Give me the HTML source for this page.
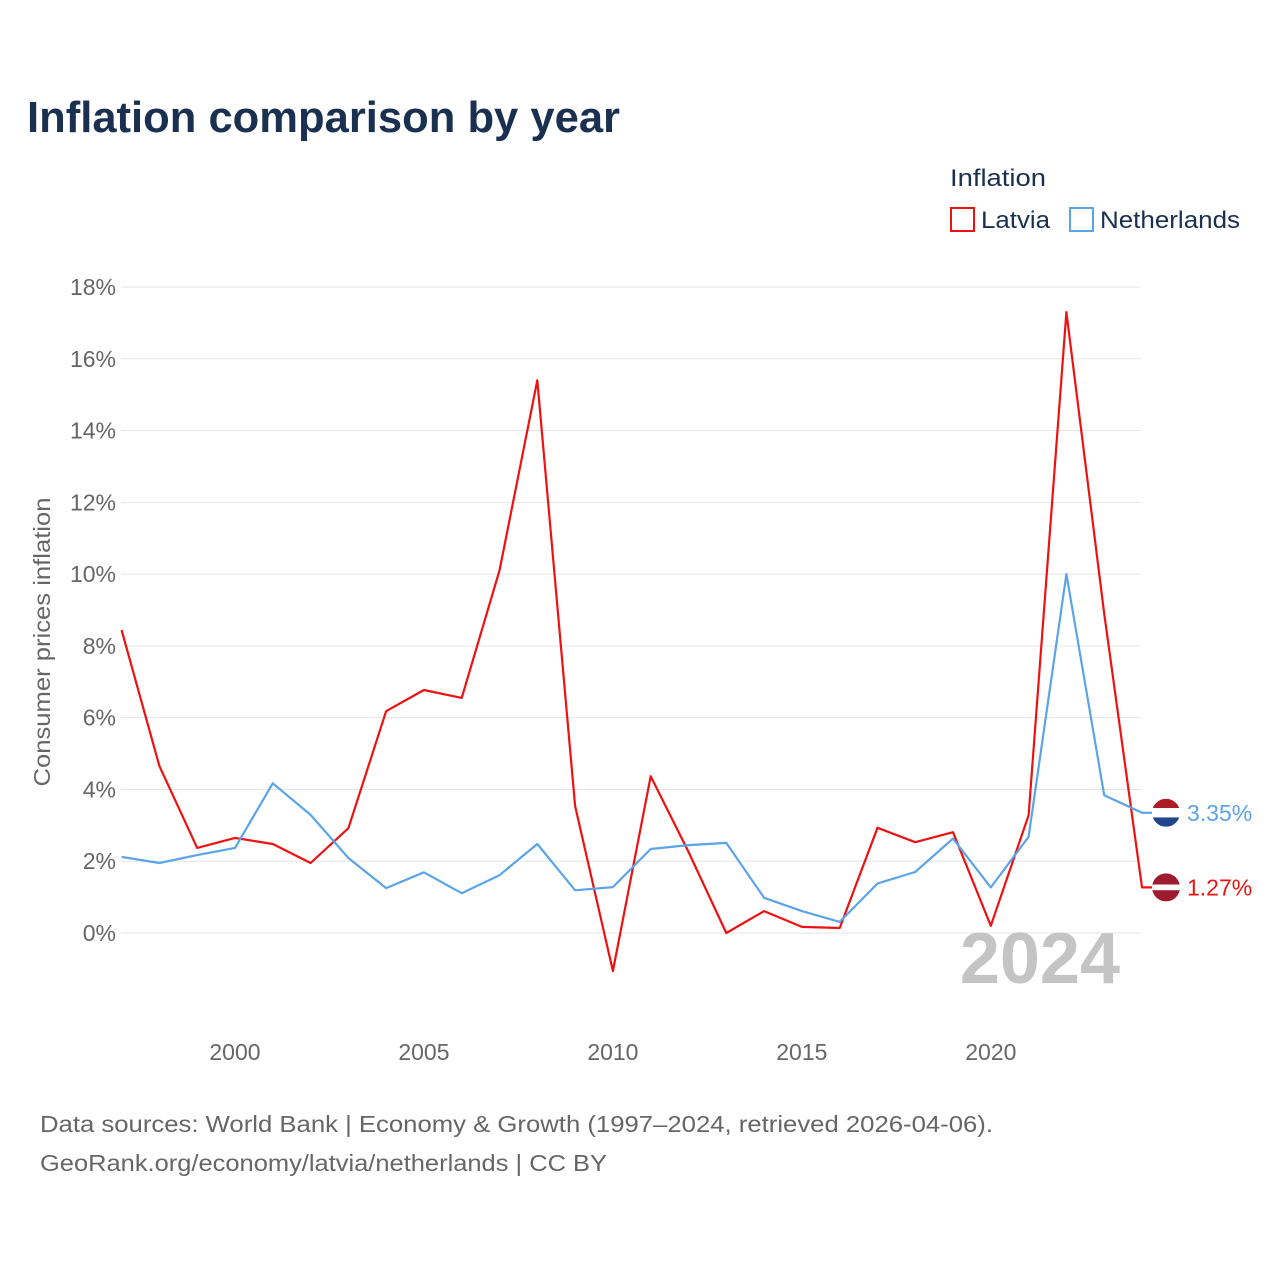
<!DOCTYPE html>
<html><head><meta charset="utf-8">
<style>
body{margin:0;background:#fff;font-family:"Liberation Sans",sans-serif;}
#wrap{position:relative;width:1280px;height:1280px;overflow:hidden;}
</style></head>
<body>
<div id="wrap">
<svg id="chart" width="1280" height="1280" xmlns="http://www.w3.org/2000/svg">
<text x="27" y="132" font-size="44" font-weight="bold" fill="#1a3050" textLength="593" lengthAdjust="spacingAndGlyphs">Inflation comparison by year</text>
<text x="950" y="186" font-size="24" fill="#1a3050" textLength="96" lengthAdjust="spacingAndGlyphs">Inflation</text>
<g>
<rect x="951" y="208" width="23" height="23" fill="none" stroke="#ee1111" stroke-width="2"/>
<text x="981" y="228" font-size="24" fill="#1a3050" textLength="69" lengthAdjust="spacingAndGlyphs">Latvia</text></g>
<g>
<rect x="1070" y="208" width="23" height="23" fill="none" stroke="#5ba4e8" stroke-width="2"/>
<text x="1100" y="228" font-size="24" fill="#1a3050" textLength="140" lengthAdjust="spacingAndGlyphs">Netherlands</text></g>
<text transform="translate(50,642) rotate(-90)" text-anchor="middle" font-size="23" fill="#666" textLength="289" lengthAdjust="spacingAndGlyphs">Consumer prices inflation</text>
<g id="grid"></g><g id="yticks"></g><g id="xticks"></g>
<text x="1120" y="983" text-anchor="end" font-size="72" font-weight="bold" fill="#c4c4c4">2024</text>
<g id="series"></g>
<text x="40" y="1132" font-size="23" fill="#666" textLength="953" lengthAdjust="spacingAndGlyphs">Data sources: World Bank | Economy &amp; Growth (1997–2024, retrieved 2026-04-06).</text>
<text x="40" y="1171" font-size="23" fill="#666" textLength="567" lengthAdjust="spacingAndGlyphs">GeoRank.org/economy/latvia/netherlands | CC BY</text>
</svg>
</div>
<script>
const years=[1997,1998,1999,2000,2001,2002,2003,2004,2005,2006,2007,2008,2009,2010,2011,2012,2013,2014,2015,2016,2017,2018,2019,2020,2021,2022,2023,2024];
const latvia=[8.44,4.65,2.37,2.65,2.48,1.95,2.92,6.18,6.77,6.55,10.1,15.4,3.54,-1.06,4.37,2.26,0.0,0.61,0.17,0.14,2.93,2.53,2.81,0.20,3.28,17.3,8.9,1.27];
const netherlands=[2.12,1.95,2.17,2.37,4.17,3.29,2.09,1.25,1.69,1.11,1.61,2.48,1.19,1.28,2.34,2.45,2.51,0.98,0.61,0.31,1.38,1.70,2.63,1.27,2.68,10.0,3.84,3.35];
const yTicks=[0,2,4,6,8,10,12,14,16,18];
const xTicks=[2000,2005,2010,2015,2020];
const NS="http://www.w3.org/2000/svg";
const X=y=>121.6+(y-1997)*(1142-121.6)/27;
const Y=v=>933-v*(933-287)/18;
function mk(t,a,p){const e=document.createElementNS(NS,t);for(const k in a)e.setAttribute(k,a[k]);p.appendChild(e);return e;}
const grid=document.getElementById('grid'),yt=document.getElementById('yticks'),xt=document.getElementById('xticks'),ser=document.getElementById('series');
yTicks.forEach(v=>{
 const l=mk('line',{x1:121,x2:1141,y1:Y(v),y2:Y(v),stroke:'#e6e6e6','stroke-width':1},grid);
 
 
 const t=mk('text',{x:116,y:Y(v)+8,'text-anchor':'end','font-size':23,fill:'#666'},yt);
 t.textContent=v+'%';
 
 
});
xTicks.forEach(v=>{
 const t=mk('text',{x:X(v),y:1060,'text-anchor':'middle','font-size':23,fill:'#666'},xt);
 t.textContent=v;
 
 
});
function line(vals,color,name){
 let d=vals.map((v,i)=>(i?'L':'M')+X(years[i]).toFixed(1)+' '+Y(v).toFixed(1)).join(' ');
 const last=vals[vals.length-1];
 d+=' L'+(X(2024)+14)+' '+Y(last).toFixed(1);
 const p=mk('path',{d:d,fill:'none',stroke:color,'stroke-width':2.2,'stroke-linejoin':'round'},ser);
 
 
}
line(latvia,'#ee1111','latvia');
line(netherlands,'#5ba4e8','netherlands');
function flag(val,cols,name,color){
 const cx=1166,cy=Y(val),r=14;
 const g=mk('g',{},ser);
 
 
 const id='c'+name;
 const cp=mk('clipPath',{id:id},g);mk('circle',{cx:cx,cy:cy,r:r},cp);
 const hs=name==='latvia'?[0.4,0.2,0.4]:[1/3,1/3,1/3];
 let yy=cy-r;
 cols.forEach((c,i)=>{mk('rect',{x:cx-r,y:yy,width:2*r,height:2*r*hs[i],fill:c,'clip-path':'url(#'+id+')'},g);yy+=2*r*hs[i];});
 const t=mk('text',{x:1187,y:cy+8,'font-size':23,fill:color},ser);
 t.textContent=val.toFixed(2)+'%';
 
 
}
flag(latvia[latvia.length-1],['#9e1a2e','#fff','#9e1a2e'],'latvia','#ee1111');
flag(netherlands[netherlands.length-1],['#ae1c28','#fff','#21468b'],'netherlands','#5ba4e8');
</script>
</body></html>
